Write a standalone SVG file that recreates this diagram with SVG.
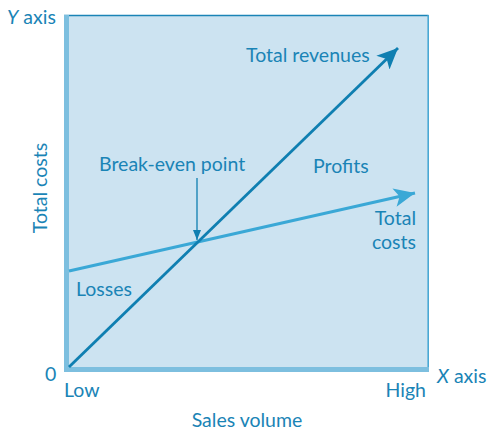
<svg xmlns="http://www.w3.org/2000/svg" width="493" height="430" viewBox="0 0 493 430">
<style>
  text { font-family: Lato, "Liberation Sans", sans-serif; font-size: 19.5px; fill: #1a84b6; }
  .it { font-style: italic; }
</style>
<defs>
  <marker id="ahDark" viewBox="0 0 10 10" refX="10" refY="5" markerWidth="7.5" markerHeight="7.5" markerUnits="strokeWidth" orient="auto">
    <path d="M0,0.5 L10,5 L0,9.5 L2.5,5 Z" fill="#0f7fb1"/>
  </marker>
  <marker id="ahLight" viewBox="0 0 10 10" refX="10" refY="5" markerWidth="7" markerHeight="7" markerUnits="strokeWidth" orient="auto">
    <path d="M0,0.5 L10,5 L0,9.5 L2.5,5 Z" fill="#3aa8d6"/>
  </marker>
  <marker id="ahSmall" viewBox="0 0 10 10" refX="10" refY="5" markerWidth="8" markerHeight="8" markerUnits="strokeWidth" orient="auto">
    <path d="M0,1 L10,5 L0,9 Z" fill="#0f7fb1"/>
  </marker>
</defs>
<g id="plot-area">
  <rect x="64" y="15" width="364" height="357" fill="#cce3f1"/>
  <line x1="64" y1="15.5" x2="428.5" y2="15.5" stroke="#1a84b6" stroke-width="1.5"/>
  <line x1="428.2" y1="15" x2="428.2" y2="368" stroke="#4aa8d4" stroke-width="1.6"/>
  <rect x="64" y="15" width="5" height="357" fill="#7dbfdf"/>
  <rect x="64" y="367" width="365" height="5" fill="#7dbfdf"/>
</g>
<g id="connectors">
  <line id="total-costs-line" x1="69" y1="271" x2="415" y2="193" stroke="#3aa8d6" stroke-width="3" marker-end="url(#ahLight)"/>
  <line id="total-revenues-line" x1="69" y1="367" x2="398" y2="48" stroke="#0f7fb1" stroke-width="2.8" marker-end="url(#ahDark)"/>
  <line id="break-even-arrow" x1="197" y1="178" x2="197" y2="240" stroke="#0f7fb1" stroke-width="1.3" marker-end="url(#ahSmall)"/>
</g>
<g id="labels">
  <text x="7" y="24"><tspan class="it">Y</tspan> axis</text>
  <text x="246" y="62">Total revenues</text>
  <text x="99" y="171">Break-even point</text>
  <text x="313" y="173">Profits</text>
  <text x="416" y="225" text-anchor="end">Total</text>
  <text x="416" y="249" text-anchor="end">costs</text>
  <text x="76" y="296">Losses</text>
  <text transform="translate(47,188) rotate(-90)" text-anchor="middle">Total costs</text>
  <text x="45" y="381">0</text>
  <text x="64" y="397">Low</text>
  <text x="426" y="397" text-anchor="end">High</text>
  <text x="437" y="383"><tspan class="it">X</tspan> axis</text>
  <text x="247" y="427" text-anchor="middle">Sales volume</text>
</g>
</svg>
